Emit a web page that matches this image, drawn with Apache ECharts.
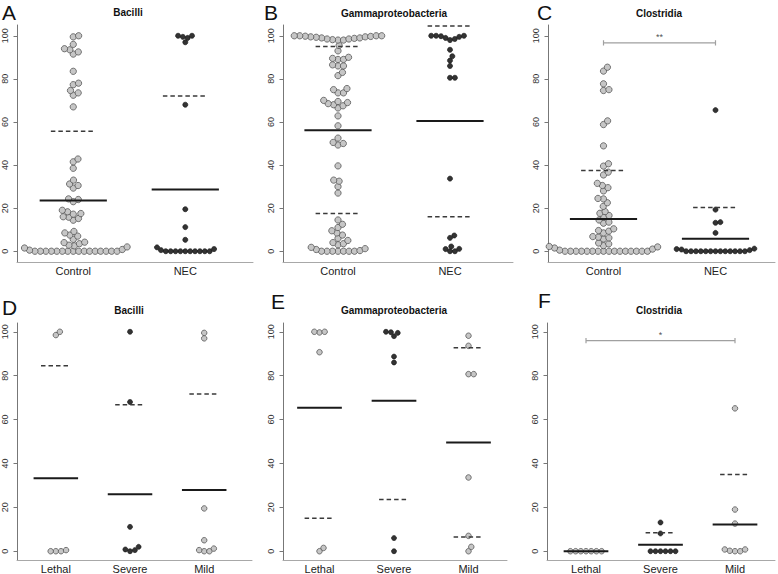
<!DOCTYPE html>
<html>
<head>
<meta charset="utf-8">
<script src="https://cdn.jsdelivr.net/npm/echarts@6/dist/echarts.min.js"></script>
<style>html,body{margin:0;padding:0;background:#fff}#c{width:778px;height:574px}</style>
</head>
<body>
<div id="c"></div>
<script>
// ---------- DATA ----------
const catsTop = ['Control', 'NEC'];
const catsBottom = ['Lethal', 'Severe', 'Mild'];
const yTicks = [0, 20, 40, 60, 80, 100];

// A: Bacilli
const ctlBacilli = [100, 99.5, 96, 94, 93.5, 92.5, 91.5, 83.5, 78, 77.3, 74.6, 73.5, 72.4, 67,
  42.8, 41.5, 38.5, 33, 31.2, 30.5, 29.3, 24.3, 24, 23, 19, 18.3, 17.5, 17.2, 16, 15.8, 15.2, 14.4,
  9.2, 8.5, 7.5, 7, 5.5, 4.2, 4, 3.5, 2.8, 2.5,
  0, 0, 0, 0, 0, 0, 0, 0, 0, 0, 0, 0, 0, 0, 0, 0, 0.5, 0.8, 1.5, 2];
const necBacilli = [100, 100, 99.5, 99, 97, 68, 19.5, 11.2, 5.3,
  0, 0, 0, 0, 0, 0, 0, 0, 0, 0, 0.5, 1, 1.8];
const solidA = [23.5, 28.7];
const dashedA = [[55.7], [72]];

// B: Gammaproteobacteria
const ctlGamma = [98, 98, 98.2, 98.5, 98.5, 98.8, 99, 99, 99.3, 99.5, 99.5, 99.7, 99.8, 100, 100, 100, 100,
  95.5, 93, 90, 89.5, 89, 89, 86.5, 86, 86, 83, 81.5, 75.5, 75, 73.5, 73.5,
  70, 69.5, 69, 68.5, 68, 67.5, 66.5, 62.8, 58.2, 52.5, 50.5, 50, 49.3, 39.6, 33, 32.5, 30, 27,
  14.5, 12.5, 11, 9.5, 8.5, 7.5, 6, 5, 4, 3.5, 3,
  0, 0, 0, 0, 0, 0, 0, 0.3, 0.8, 1.2, 1.8];
const necGamma = [100, 100, 99.8, 99.5, 99, 98.5, 98, 100, 93.5, 90.5, 88.5, 86, 80.5, 80.5,
  33.7, 7.3, 6.2, 2.2, 1.1, 1, 0, 0];
const solidB = [56.2, 60.4];
const dashedB = [[95, 17.5], [104.5, 16]];

// C: Clostridia
const ctlClos = [85.4, 83.6, 77.7, 75, 74.6, 60.5, 58.8, 48.9, 40.6, 39.5, 36.7, 35.4,
  31.5, 30.5, 29.5, 28, 24.5, 24.3, 22.5, 20.8, 18.4, 17.6, 16.6, 15.8, 14.5, 13.5, 13,
  10.4, 9.6, 9.3, 8.5, 6.8, 6.5, 6.2, 5.7, 3.8, 3.4, 2.6, 2.2,
  0, 0, 0, 0, 0, 0, 0, 0, 0, 0, 0, 0, 0, 0, 0, 0, 0.5, 1, 1.5, 2];
const necClos = [65.5, 19.3, 13.5, 13.2, 8.5,
  0, 0, 0, 0, 0, 0, 0, 0, 0, 0, 0, 0, 0, 0.5, 0.8, 1, 1.2];
const solidC = [15, 5.8];
const dashedC = [[37.5], [20.3]];
const bracketC = [1, 2, 96.7, '**'];

// D: Bacilli by severity
const lethalBacilli = [100, 98.5, 0, 0, 0, 0.5];
const severeBacilli = [100, 68, 11.1, 2, 0.8, 0.5, 0];
const mildBacilli = [99.5, 97, 19.5, 5, 1.2, 0.5, 0, 0];
const solidD = [33.2, 26, 27.9];
const dashedD = [[84.5], [66.7], [71.7]];

// E: Gammaproteobacteria by severity
const lethalGamma = [100, 99.7, 100, 90.7, 1.5, 0];
const severeGamma = [100, 99.5, 98, 99.8, 88.7, 86, 6, 0];
const mildGamma = [98.2, 93.6, 80.7, 80.7, 33.6, 7, 2, 0];
const solidE = [65.4, 68.6, 49.6];
const dashedE = [[15], [23.6], [92.7, 6.5]];

// F: Clostridia by severity
const lethalClos = [0, 0, 0, 0, 0, 0, 0];
const severeClos = [13.1, 8.1, 0, 0, 0, 0, 0, 0];
const mildClos = [65.1, 19, 12.6, 0.8, 0.2, 0, 0, 0.8];
const solidF = [0, 3, 12.2];
const dashedF = [[], [8.4], [35]];
const bracketF = [1, 3, 96, '*'];

// ---------- PANELS ----------
const panels = [
  {letter: 'A', title: 'Bacilli', cats: catsTop, groups: [ctlBacilli, necBacilli], solid: solidA, dashed: dashedA, bracket: null},
  {letter: 'B', title: 'Gammaproteobacteria', cats: catsTop, groups: [ctlGamma, necGamma], solid: solidB, dashed: dashedB, bracket: null},
  {letter: 'C', title: 'Clostridia', cats: catsTop, groups: [ctlClos, necClos], solid: solidC, dashed: dashedC, bracket: bracketC},
  {letter: 'D', title: 'Bacilli', cats: catsBottom, groups: [lethalBacilli, severeBacilli, mildBacilli], solid: solidD, dashed: dashedD, bracket: null},
  {letter: 'E', title: 'Gammaproteobacteria', cats: catsBottom, groups: [lethalGamma, severeGamma, mildGamma], solid: solidE, dashed: dashedE, bracket: null},
  {letter: 'F', title: 'Clostridia', cats: catsBottom, groups: [lethalClos, severeClos, mildClos], solid: solidF, dashed: dashedF, bracket: bracketF}
];

// ---------- LAYOUT (pixels / styles) ----------
const layout = [
  {axisX: 16, cat1: 72.5, step: 112.5, right: 253, top: 25, h: 237, ymin: -5, ymax: 105, lx: 2, ly: 12.5, tx: 128, ty: 12, tones: ['light', 'dark'], size: 'big'},
  {axisX: 283, cat1: 338, step: 112, right: 513, top: 25, h: 237, ymin: -5, ymax: 105, lx: 264, ly: 12.5, tx: 394, ty: 13, tones: ['light', 'dark'], size: 'big'},
  {axisX: 548, cat1: 603.5, step: 112, right: 775, top: 25, h: 237, ymin: -5, ymax: 105, lx: 537, ly: 12.5, tx: 659, ty: 13, tones: ['light', 'dark'], size: 'big'},
  {axisX: 16, cat1: 55, step: 74.5, right: 252, top: 323, h: 237, ymin: -4, ymax: 104, lx: 2, ly: 307, tx: 129, ty: 310, tones: ['light', 'dark', 'light'], size: 'small'},
  {axisX: 283, cat1: 319.5, step: 74.5, right: 507, top: 323, h: 237, ymin: -4, ymax: 104, lx: 271, ly: 301, tx: 394, ty: 310, tones: ['light', 'dark', 'light'], size: 'small'},
  {axisX: 547, cat1: 586, step: 74.5, right: 775, top: 323, h: 237, ymin: -4, ymax: 104, lx: 538, ly: 300, tx: 659, ty: 310, tones: ['light', 'dark', 'light'], size: 'small'}
];
const pointStyle = {
  big: {light: {size: 6.3, d: 5.5}, dark: {size: 5.1, d: 4.9}},
  small: {light: {size: 5.5, d: 5.2}, dark: {size: 5.0, d: 5.0}}
};
const toneColor = {
  light: {color: '#c6c6c6', borderColor: '#555555', borderWidth: 0.8},
  dark: {color: '#333333', borderColor: '#111111', borderWidth: 0.6}
};
const FONT = '"Liberation Sans", Arial, Helvetica, sans-serif';

// beeswarm (swarm method) layout computed in pixel space
function swarm(values, ky, kx, d) {
  const sorted = values.slice().sort((a, b) => a - b);
  const placed = [];
  const out = [];
  for (const v of sorted) {
    const y = v * ky;
    const cands = [0];
    for (const p of placed) {
      const dy = Math.abs(p.y - y);
      if (dy < d) {
        const dx = Math.sqrt(d * d - dy * dy);
        cands.push(p.x + dx, p.x - dx);
      }
    }
    cands.sort((a, b) => (Math.abs(a) - Math.abs(b)) || (b - a));
    let best = 0;
    for (const c of cands) {
      let ok = true;
      for (const p of placed) {
        const ddx = c - p.x, ddy = y - p.y;
        if (ddx * ddx + ddy * ddy < d * d - 1e-6) { ok = false; break; }
      }
      if (ok) { best = c; break; }
    }
    placed.push({x: best, y: y});
    out.push(best / kx);
  }
  return {sorted, offsets: out};
}

const grids = [], xAxes = [], yAxes = [], series = [], graphics = [];

panels.forEach((p, i) => {
  const L = layout[i];
  const n = p.cats.length;
  const xmin = 1 - (L.cat1 - L.axisX) / L.step;
  const catN = L.cat1 + (n - 1) * L.step;
  const xmax = n + (L.right - catN) / L.step;
  const ky = L.h / (L.ymax - L.ymin);
  grids.push({left: L.axisX, top: L.top, width: L.right - L.axisX, height: L.h, containLabel: false});
  xAxes.push({
    gridIndex: i, type: 'value', min: xmin, max: xmax,
    axisLine: {show: true, onZero: false, lineStyle: {color: '#a8a8a8', width: 1}},
    axisTick: {show: false}, splitLine: {show: false},
    axisLabel: {
      customValues: p.cats.map((c, k) => k + 1),
      formatter: v => p.cats[Math.round(v) - 1] || '',
      margin: 3, fontSize: 11, color: '#222', fontFamily: FONT
    }
  });
  yAxes.push({
    gridIndex: i, type: 'value', min: L.ymin, max: L.ymax,
    axisLine: {show: true, onZero: false, lineStyle: {color: '#777', width: 1}},
    axisTick: {show: true, length: 3.5, customValues: yTicks, lineStyle: {color: '#777'}},
    axisLabel: {customValues: yTicks, rotate: 90, margin: 8, fontSize: 9, color: '#333', fontFamily: FONT},
    splitLine: {show: false}
  });

  p.groups.forEach((vals, g) => {
    const tone = L.tones[g];
    const ps = pointStyle[L.size][tone];
    const sw = swarm(vals, ky, L.step, ps.d);
    const data = sw.sorted.map((v, k) => [g + 1 + sw.offsets[k], v]);
    series.push({
      type: 'scatter', xAxisIndex: i, yAxisIndex: i, data: data,
      symbol: 'circle', symbolSize: ps.size, itemStyle: Object.assign({opacity: 1}, toneColor[tone]),
      silent: true, z: 2
    });
    const sv = p.solid[g];
    if (sv !== undefined && sv !== null) {
      series.push({
        type: 'line', xAxisIndex: i, yAxisIndex: i, data: [[g + 1 - 0.3, sv], [g + 1 + 0.3, sv]],
        symbol: 'none', lineStyle: {color: '#1a1a1a', width: 2}, silent: true, z: 5
      });
    }
    (p.dashed[g] || []).forEach(dv => {
      series.push({
        type: 'line', xAxisIndex: i, yAxisIndex: i, data: [[g + 1 - 0.2, dv], [g + 1 + 0.2, dv]],
        symbol: 'none', lineStyle: {color: '#3a3a3a', width: 1.5, type: [4.5, 3]}, silent: true, z: 5
      });
    });
  });

  if (p.bracket) {
    const [a, b, yv, txt] = p.bracket;
    const cap = 1.2;
    series.push({
      type: 'line', xAxisIndex: i, yAxisIndex: i,
      data: [[a, yv + cap], [a, yv - cap], [a, yv], [b, yv], [b, yv + cap], [b, yv - cap]],
      symbol: 'none', lineStyle: {color: '#a0a0a0', width: 1.2}, silent: true, z: 4
    });
    series.push({
      type: 'scatter', xAxisIndex: i, yAxisIndex: i, data: [[(a + b) / 2, yv]],
      symbolSize: 1, itemStyle: {color: 'rgba(0,0,0,0)'}, silent: true,
      label: {show: true, position: 'top', distance: 1, formatter: txt, fontSize: 9, color: '#222', fontFamily: FONT}
    });
  }

  graphics.push({
    type: 'text', x: L.lx, y: L.ly,
    style: {text: p.letter, fontSize: 21, fontFamily: FONT, fill: '#111', textAlign: 'left', textVerticalAlign: 'middle'}
  });
  graphics.push({
    type: 'text', x: L.tx, y: L.ty,
    style: {text: p.title, fontSize: 10, fontWeight: 'bold', fontFamily: FONT, fill: '#111', textAlign: 'center', textVerticalAlign: 'middle'}
  });
});

const chart = echarts.init(document.getElementById('c'), null, {renderer: 'svg'});
chart.setOption({
  animation: false,
  backgroundColor: '#ffffff',
  grid: grids, xAxis: xAxes, yAxis: yAxes, series: series,
  graphic: graphics
});
</script>
</body>
</html>
